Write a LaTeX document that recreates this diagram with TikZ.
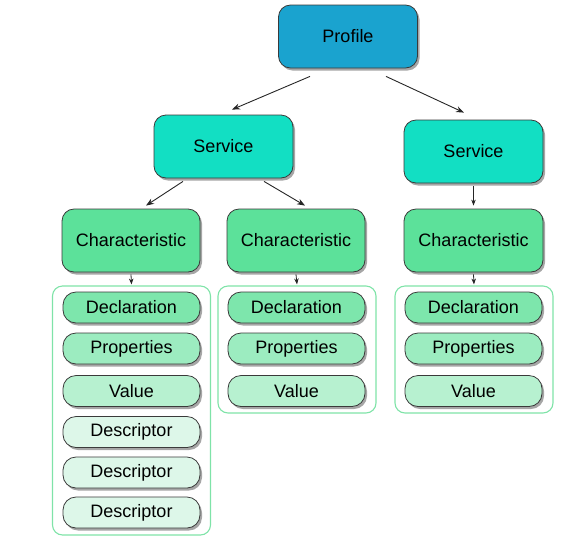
\documentclass[tikz,border=0pt]{standalone}
\usepackage{fontspec}
\setmainfont{Liberation Sans}
\usetikzlibrary{shadows,arrows.meta,calc}
\definecolor{cprofile}{HTML}{1AA3CF}
\definecolor{cservice}{HTML}{12DFC3}
\definecolor{cchar}{HTML}{5CE19A}
\definecolor{cdecl}{HTML}{7DE6AC}
\definecolor{cprop}{HTML}{9CECC0}
\definecolor{cvalue}{HTML}{B7F1D0}
\definecolor{cdesc}{HTML}{DDF7E9}
\definecolor{ccont}{HTML}{7FE3A8}
\definecolor{cedge}{HTML}{3A3A3A}
\begin{document}
\begin{tikzpicture}[x=1pt,y=-1pt,
  box/.style={draw=cedge, line width=0.8pt, rounded corners=12pt,
    minimum width=139pt, minimum height=63pt, inner sep=0pt,
    font=\fontsize{18}{21}\selectfont,
    drop shadow={shadow xshift=2pt, shadow yshift=-2.5pt, opacity=0.35, fill=black}},
  item/.style={box, rounded corners=13pt, minimum width=137pt, minimum height=31pt},
  cont/.style={draw=ccont, line width=1.1pt, rounded corners=10pt, minimum width=158pt, inner sep=0pt},
  arr/.style={draw=black!85, line width=0.9pt, -{Stealth[length=8pt,width=6pt]}},
  sarr/.style={draw=black!85, line width=0.8pt, -{Stealth[length=6pt,width=4.5pt]}}
]
\useasboundingbox (0,0) rectangle (568,550);
% containers
\node[cont, minimum height=249pt] (c1) at (131.5,410.5) {};
\node[cont, minimum height=127pt] (c2) at (297,349.5) {};
\node[cont, minimum height=127pt] (c3) at (474,349.5) {};
% main boxes
\node[box, fill=cprofile] (profile) at (348,36.5) {Profile};
\node[box, fill=cservice] (svc1) at (223.5,146.5) {Service};
\node[box, fill=cservice] (svc2) at (473.5,151.5) {Service};
\node[box, fill=cchar, minimum width=138pt] (ch1) at (131,240.5) {Characteristic};
\node[box, fill=cchar, minimum width=138pt] (ch2) at (296,240.5) {Characteristic};
\node[box, fill=cchar] (ch3) at (473.5,240.5) {Characteristic};
% items left
\node[item, fill=cdecl] (d1) at (131.5,307.5) {Declaration};
\node[item, fill=cprop] (p1) at (131.5,348.5) {Properties};
\node[item, fill=cvalue] (v1) at (131.5,391) {Value};
\node[item, fill=cdesc] (ds1) at (131.5,432) {Descriptor};
\node[item, fill=cdesc] (ds2) at (131.5,472.5) {Descriptor};
\node[item, fill=cdesc] (ds3) at (131.5,512.5) {Descriptor};
% items middle
\node[item, fill=cdecl] (d2) at (296.5,307.5) {Declaration};
\node[item, fill=cprop] (p2) at (296.5,348.5) {Properties};
\node[item, fill=cvalue] (v2) at (296.5,391) {Value};
% items right
\node[item, fill=cdecl] (d3) at (473.5,307.5) {Declaration};
\node[item, fill=cprop] (p3) at (473.5,348.5) {Properties};
\node[item, fill=cvalue] (v3) at (473.5,391) {Value};
% arrows
\draw[arr] ($(profile.south)+(-38,8)$) -- ($(svc1.north)+(8.5,-5)$);
\draw[arr] ($(profile.south)+(38,8)$) -- ($(svc2.north)+(-9.5,-7)$);
\draw[arr] ($(svc1.south)+(-40.5,3)$) -- ($(ch1.north)+(15,-3)$);
\draw[arr] ($(svc1.south)+(40.5,3)$) -- ($(ch2.north)+(9,-3)$);
\draw[sarr] ($(svc2.south)+(0,3)$) -- ($(ch3.north)+(0,-3)$);
\draw[sarr] ($(ch1.south)+(0,2)$) -- ($(c1.north)+(0,-1)$);
\draw[sarr] ($(ch2.south)+(0,2)$) -- ($(c2.north)+(0,-1)$);
\draw[sarr] ($(ch3.south)+(0,2)$) -- ($(c3.north)+(0,-1)$);
\end{tikzpicture}
\end{document}
